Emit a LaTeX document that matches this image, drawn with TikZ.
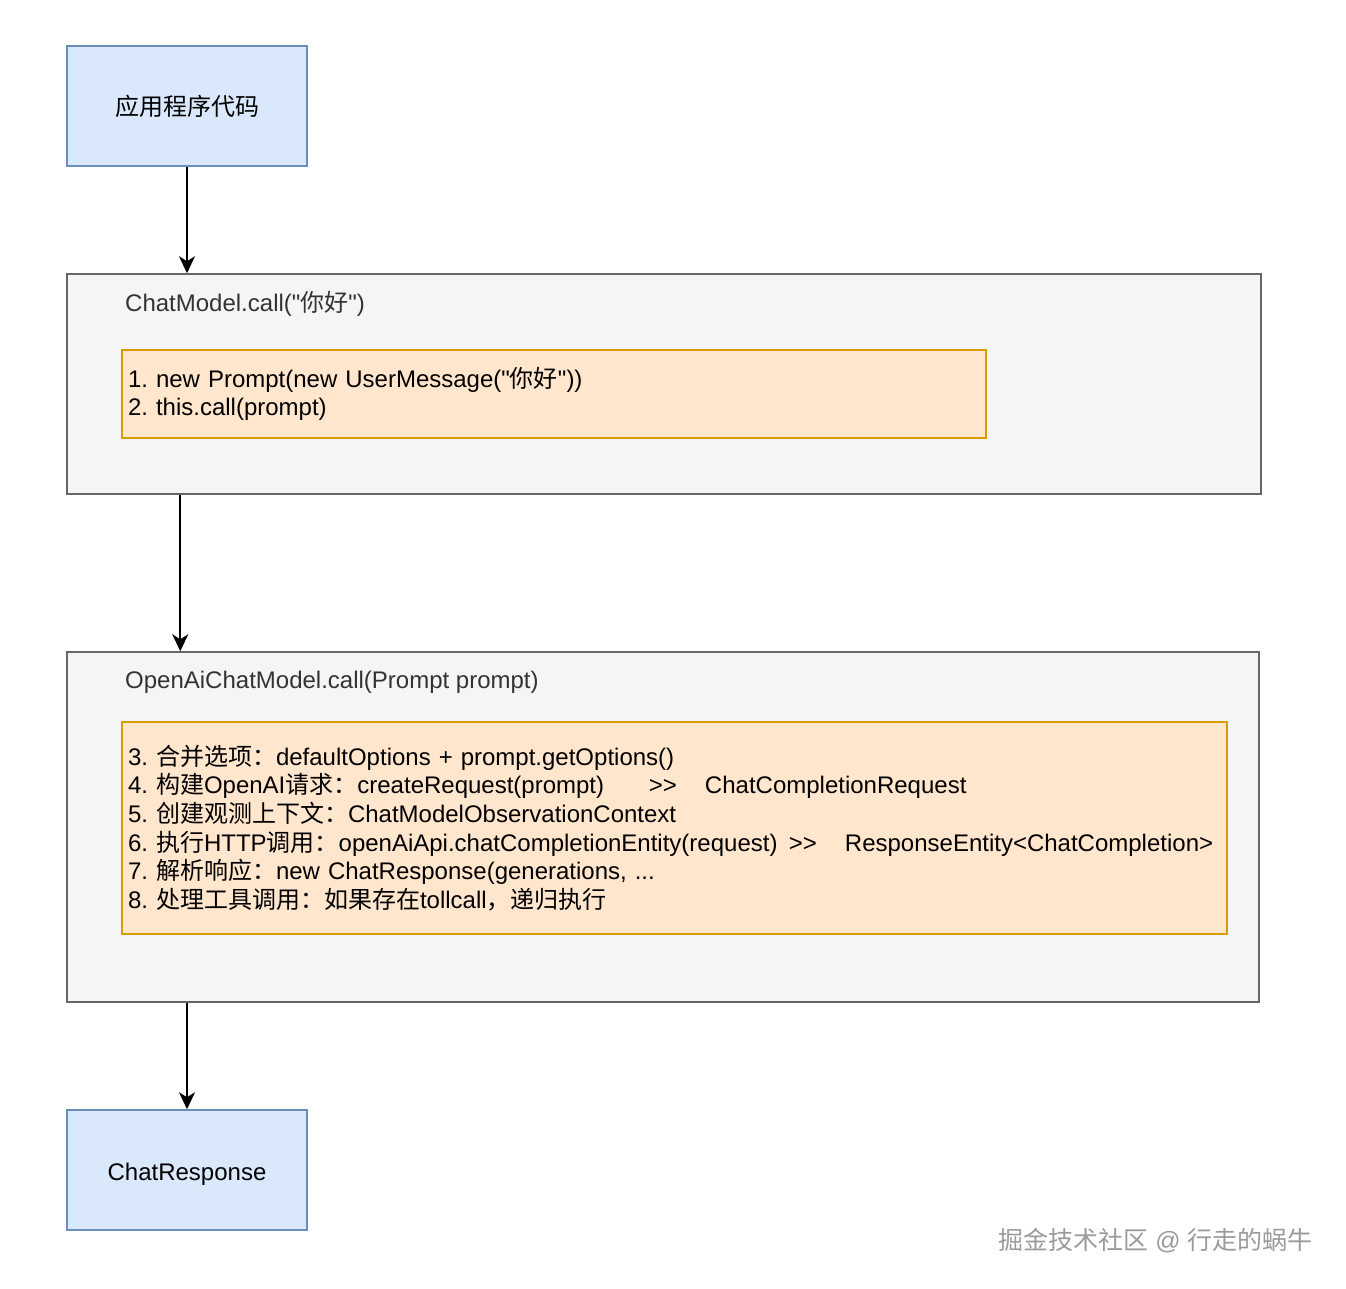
\documentclass[tikz,border=0pt]{standalone}
\usepackage{fontspec}
\setmainfont{Liberation Sans}[Ligatures=TeXOff]
\newfontfamily\cjk{Noto Sans CJK SC}
\usetikzlibrary{arrows.meta}
\definecolor{bluefill}{HTML}{DAE8FC}
\definecolor{blueline}{HTML}{6C8EBF}
\definecolor{greyfill}{HTML}{F5F5F5}
\definecolor{greyline}{HTML}{666666}
\definecolor{orangefill}{HTML}{FFE6CC}
\definecolor{orangeline}{HTML}{D79B00}
\definecolor{titlegrey}{HTML}{333333}
\definecolor{markgrey}{HTML}{9A9A9A}
\newcommand{\zh}[1]{{\cjk #1}}
\frenchspacing

\begin{document}
\begin{tikzpicture}[x=1pt, y=-1pt, >={Stealth[length=17pt, width=16pt, inset=5pt]},
    txt/.style={font=\fontsize{24}{28.7}\selectfont},
    endbox/.style={txt, draw=blueline, fill=bluefill, line width=1.5pt, minimum width=240pt, minimum height=120pt, inner sep=0pt},
    stagebox/.style={draw=greyline, fill=greyfill, line width=1.5pt, inner sep=0pt},
    stagetitle/.style={txt, text=titlegrey, anchor=west, inner sep=0pt},
    stepbox/.style={txt, draw=orangeline, fill=orangefill, line width=1.5pt, align=left, inner xsep=6pt, inner ysep=0pt},
    flow/.style={->, line width=1.6pt}]
  \useasboundingbox (0,0) rectangle (1346,1288);

  % entry and result
  \node[endbox] (app) at (187,106) {\zh{应用程序代码}};
  \node[endbox] (reply) at (187,1170) {\raisebox{-10.5pt}[0pt][0pt]{ChatResponse}};

  % ChatModel.call
  \node[stagebox, minimum width=1194pt, minimum height=220pt] (callbox) at (664,384) {};
  \node[stagetitle] (calltitle) at (125,304) {ChatModel.call("\zh{你好}")};
  \node[stepbox, minimum width=864pt, minimum height=88pt, text width=852pt] (callsteps) at (554,394)
    {1. new Prompt(new UserMessage("\zh{你好}"))\\
     2. this.call(prompt)};

  % OpenAiChatModel.call
  \node[stagebox, minimum width=1192pt, minimum height=350pt] (modelbox) at (663,827) {};
  \node[stagetitle] (modeltitle) at (125,682) {OpenAiChatModel.call(Prompt prompt)};
  \node[stepbox, minimum width=1105pt, minimum height=212pt, text width=1093pt] (modelsteps) at (674.5,828)
    {3. \zh{合并选项：}defaultOptions + prompt.getOptions()\\
     \makebox[521pt][l]{4. \zh{构建}OpenAI\zh{请求：}createRequest(prompt)}>>\hspace{28pt}ChatCompletionRequest\\
     5. \zh{创建观测上下文：}ChatModelObservationContext\\
     \makebox[661pt][l]{6. \zh{执行}HTTP\zh{调用：}openAiApi.chatCompletionEntity(request)}>>\hspace{28pt}ResponseEntity<ChatCompletion>\\
     7. \zh{解析响应：}new ChatResponse(generations, ...\\
     8. \zh{处理工具调用：如果存在}tollcall\zh{，递归执行}};

  \draw[flow] (app) -- (app |- callbox.north);
  \draw[flow] ([xshift=114pt]callbox.south west) -- ([xshift=114pt]modelbox.north west);
  \draw[flow] (modelbox.south -| reply) -- (reply);

  \node[txt, text=markgrey, anchor=east, inner sep=0pt, font=\fontsize{25}{30}\selectfont] (mark) at (1313,1241) {\zh{掘金技术社区} @ \zh{行走的蜗牛}};
\end{tikzpicture}
\end{document}
